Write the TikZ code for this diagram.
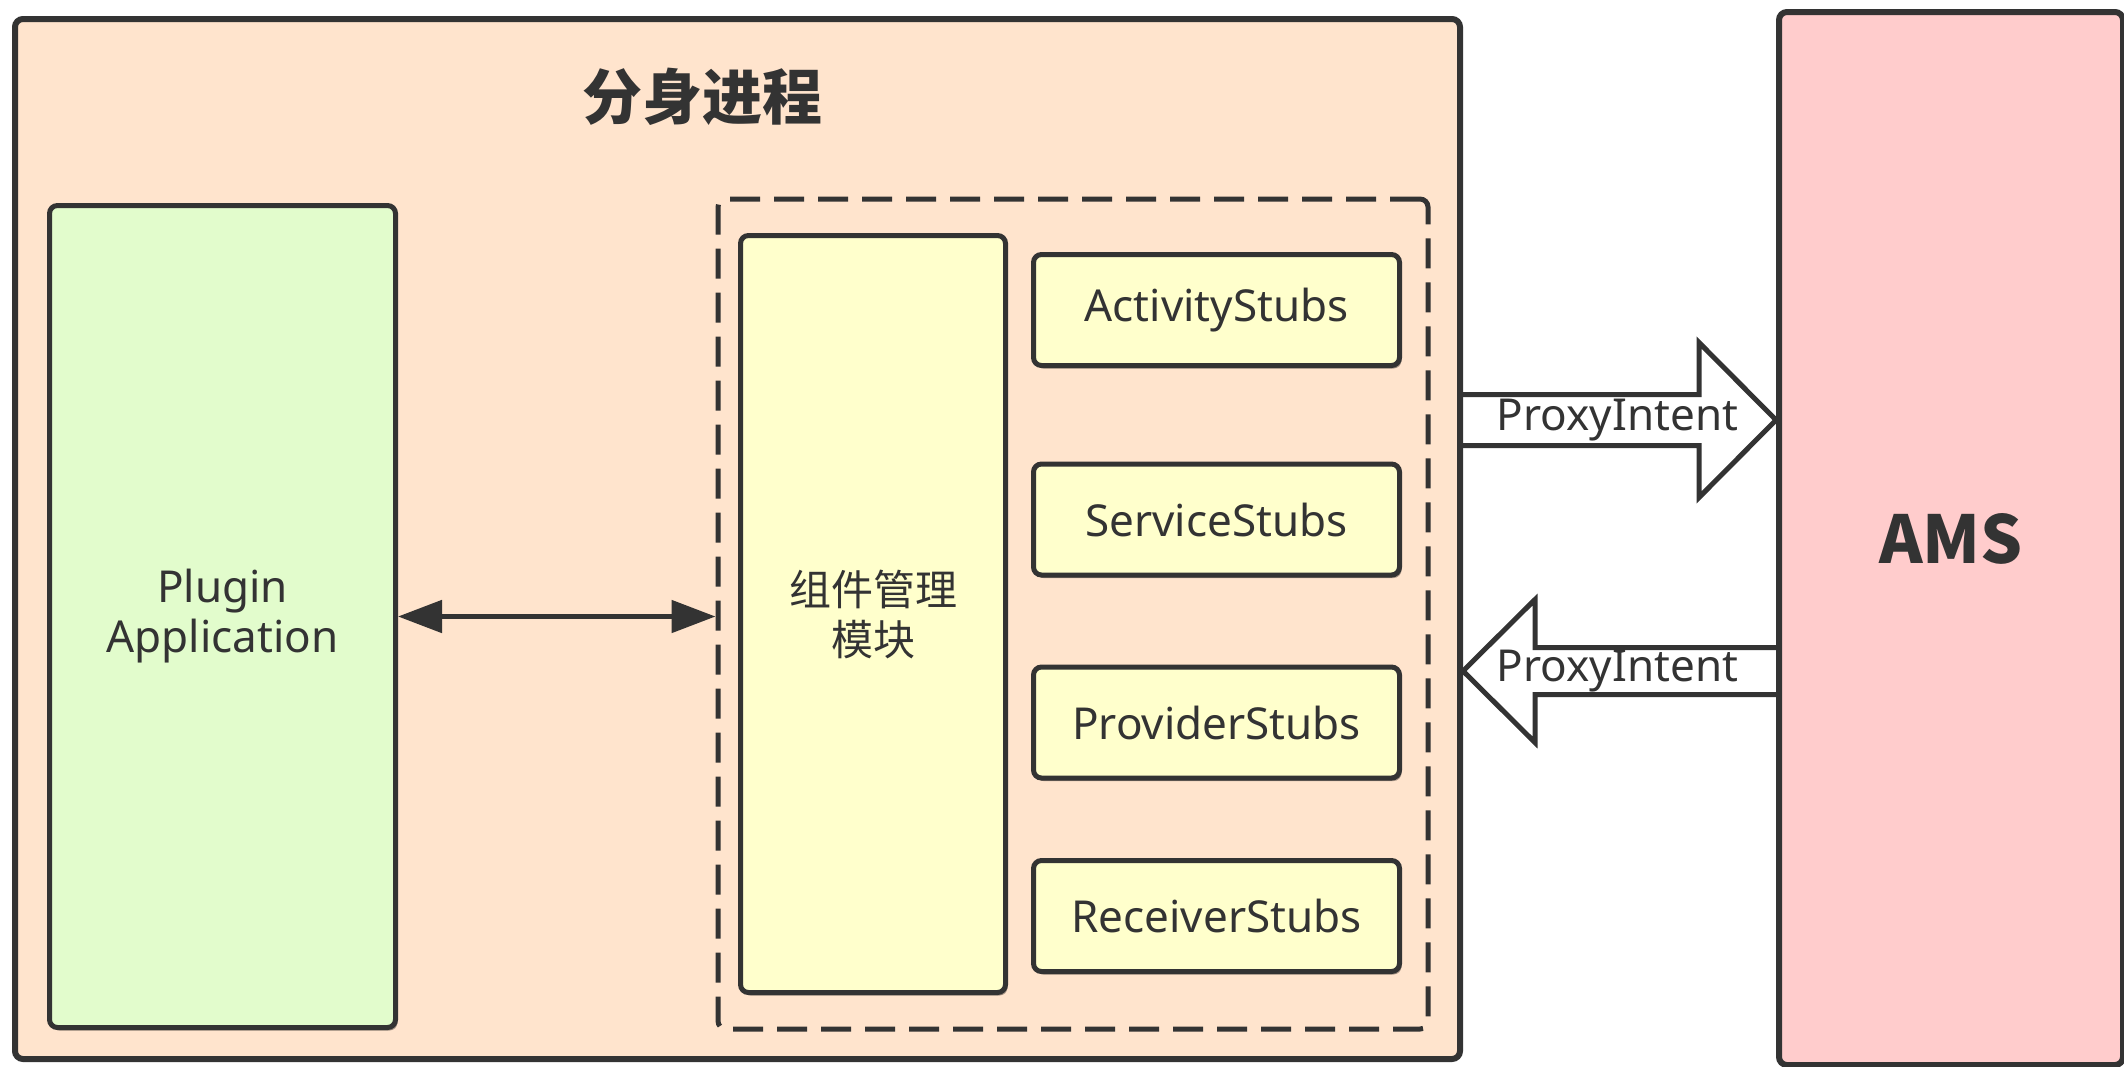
\documentclass[tikz,border=0pt]{standalone}
\usepackage{fontspec}
\setmainfont{Noto Sans}
\newfontfamily\cjk{Noto Sans CJK SC}
\usetikzlibrary{arrows.meta,backgrounds,shadows,calc}
\definecolor{inkgray}{RGB}{51,51,51}
\definecolor{procfill}{RGB}{255,228,205}
\definecolor{appfill}{RGB}{226,252,204}
\definecolor{stubfill}{RGB}{255,255,204}
\definecolor{amsfill}{RGB}{255,204,204}

\begin{document}
\begin{tikzpicture}
[
x=0.5pt,y=-0.5pt,
every node/.style={inner sep=0pt,text=inkgray,font=\fontsize{22pt}{25pt}\selectfont},
box/.style={draw=inkgray,line width=2.5pt,rounded corners=4pt,align=center},
lift/.style={drop shadow={shadow xshift=1pt,shadow yshift=-1.5pt,opacity=.35,fill=black}},
stubbox/.style={box,lift,fill=stubfill,minimum width=183pt,minimum height=55.5pt},
fatarrow/.style={draw=inkgray,fill=white,line width=2.5pt},
linkpath/.style={draw=inkgray,line width=2.5pt,{Triangle[length=22pt,width=16pt]}-{Triangle[length=22pt,width=16pt]}}
]
\useasboundingbox (0,0) rectangle (2124,1066);

% process box and AMS
\node[box,line width=3pt,fill=procfill,minimum width=722.5pt,minimum height=520pt] (proc) at (737.5,539) {};
\node[font=\fontsize{30pt}{36pt}\selectfont\cjk\bfseries] (title) at (702,97) {分身进程};
\node[box,line width=3pt,fill=amsfill,minimum width=172pt,minimum height=526.5pt,
  font=\fontsize{33pt}{38pt}\selectfont\cjk\bfseries] (ams) at (1951,538.5) {AMS};

% plugin side
\node[box,lift,fill=appfill,minimum width=173pt,minimum height=411pt] (plugin) at (222.5,616.5) {Plugin\\Application};
\node[draw=inkgray,line width=2.5pt,dash pattern=on 15pt off 7pt,rounded corners=4pt,
  minimum width=355pt,minimum height=415pt] (group) at (1073,614) {};
\node[box,lift,fill=stubfill,minimum width=132.5pt,minimum height=378.5pt,
  font=\fontsize{21pt}{25pt}\selectfont\cjk] (mgr) at (873,614) {组件管理\\模块};
\foreach \name/\y in {Activity/310,Service/519.5,Provider/722.5,Receiver/916} {
  \node[stubbox] (\name) at (1216.5,\y) {\name Stubs};
}

\draw[linkpath] (plugin.east) -- (plugin.east -| group.west);

% intents
\node (pxout) at (1617.5,420) {ProxyIntent};
\node (pxin) at (1617.5,671) {ProxyIntent};
\begin{pgfonlayer}{background}
\draw[fatarrow] ($(proc.east |- pxout)+(0,-25.5)$) -- ($(ams.west |- pxout)+(-77,-25.5)$) -- ++(0,-52)
  -- (ams.west |- pxout) -- ++(-77,77.5) -- ++(0,-52) -- ($(proc.east |- pxout)+(0,25.5)$);
\draw[fatarrow] ($(ams.west |- pxin)+(0,-23.5)$) -- ($(proc.east |- pxin)+(72,-23.5)$) -- ++(0,-48)
  -- (proc.east |- pxin) -- ++(72,71.5) -- ++(0,-48) -- ($(ams.west |- pxin)+(0,23.5)$);
\end{pgfonlayer}

\end{tikzpicture}
\end{document}
